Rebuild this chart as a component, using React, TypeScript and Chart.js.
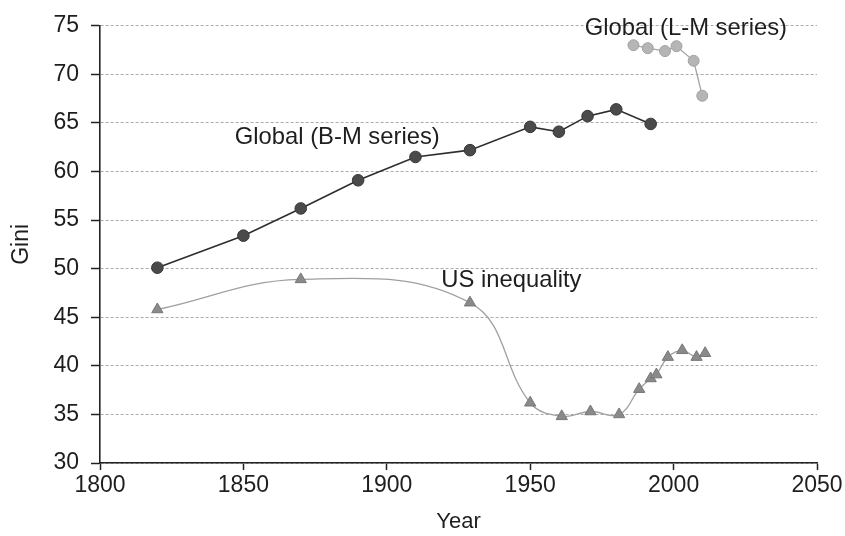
import { useEffect, useRef } from "react";
import { Chart, registerables } from "chart.js";

Chart.register(...registerables);

// ---- data ----
const bmYears = [1820, 1850, 1870, 1890, 1910, 1929, 1950, 1960, 1970, 1980, 1992];
const bmGini = [50.1, 53.4, 56.2, 59.1, 61.5, 62.2, 64.6, 64.1, 65.7, 66.4, 64.9];

const lmYears = [1986, 1991, 1997, 2001, 2007, 2010];
const lmGini = [73.0, 72.7, 72.4, 72.9, 71.4, 67.8];

const usYears = [1820, 1870, 1929, 1950, 1961, 1971, 1981, 1988, 1992, 1994, 1998, 2003, 2008, 2011];
const usGini = [45.8, 48.9, 46.5, 36.2, 34.8, 35.3, 35.0, 37.6, 38.7, 39.1, 40.9, 41.6, 40.9, 41.3];

const xTicks = [1800, 1850, 1900, 1950, 2000, 2050];
const yTicks = [30, 35, 40, 45, 50, 55, 60, 65, 70, 75];

const seriesLabels = ["Global (B-M series)", "Global (L-M series)", "US inequality"];
const labelYears = [1847, 1969, 1919];
const labelGini = [62.8, 74.1, 48.1];

const FONT = '"Liberation Sans", Arial, Helvetica, sans-serif';
const INK = "#1e1e1e";

export default function App() {
  const ref = useRef<HTMLCanvasElement>(null);

  useEffect(() => {
    const canvas = ref.current;
    if (!canvas) return;

    const labelPlugin = {
      id: "seriesLabels",
      afterDatasetsDraw(chart: any) {
        const { ctx, scales } = chart;
        const x = scales.x;
        const y = scales.y;
        ctx.save();
        ctx.font = `23.8px ${FONT}`;
        ctx.fillStyle = INK;
        ctx.textAlign = "left";
        ctx.textBaseline = "alphabetic";
        seriesLabels.forEach((t, i) => {
          ctx.fillText(t, x.getPixelForValue(labelYears[i]), y.getPixelForValue(labelGini[i]));
        });
        ctx.restore();
      },
    };

    const chart = new Chart(canvas, {
      type: "line",
      data: {
        datasets: [
          {
            label: "US inequality",
            data: usYears.map((yr, i) => ({ x: yr, y: usGini[i] })),
            borderColor: "#a0a0a0",
            borderWidth: 1.3,
            tension: 0.4,
            pointStyle: "triangle",
            pointRadius: 6.5,
            pointBackgroundColor: "#8a8a8a",
            pointBorderColor: "#777777",
            pointBorderWidth: 1,
          },
          {
            label: "Global (B-M series)",
            data: bmYears.map((yr, i) => ({ x: yr, y: bmGini[i] })),
            borderColor: "#2e2e2e",
            borderWidth: 1.6,
            tension: 0,
            pointStyle: "circle",
            pointRadius: 5.8,
            pointBackgroundColor: "#4a4a4a",
            pointBorderColor: "#363636",
            pointBorderWidth: 1,
          },
          {
            label: "Global (L-M series)",
            data: lmYears.map((yr, i) => ({ x: yr, y: lmGini[i] })),
            borderColor: "#a5a5a5",
            borderWidth: 1.3,
            tension: 0,
            pointStyle: "circle",
            pointRadius: 5.5,
            pointBackgroundColor: "#b5b5b5",
            pointBorderColor: "#a2a2a2",
            pointBorderWidth: 1,
          },
        ],
      },
      options: {
        responsive: false,
        animation: false,
        layout: { padding: { left: 0, top: 22, right: 28, bottom: 0 } },
        plugins: {
          legend: { display: false },
          tooltip: { enabled: false },
        },
        scales: {
          x: {
            type: "linear",
            min: 1800,
            max: 2050,
            afterBuildTicks: (s: any) => {
              s.ticks = xTicks.map((v) => ({ value: v }));
            },
            afterFit: (s: any) => {
              s.height = 73;
            },
            ticks: {
              color: INK,
              font: { family: FONT, size: 23 },
              padding: 2,
              maxRotation: 0,
              autoSkip: false,
              callback: (v: any) => String(v),
            },
            grid: {
              drawOnChartArea: false,
              tickLength: 7,
              tickColor: "#222",
              tickWidth: 1.5,
            },
            border: { color: "#222", width: 1.6 },
            title: {
              display: true,
              text: "Year",
              color: INK,
              font: { family: FONT, size: 22 },
              padding: { top: 0, bottom: 1 },
            },
          },
          y: {
            type: "linear",
            min: 30,
            max: 75,
            afterBuildTicks: (s: any) => {
              s.ticks = yTicks.map((v) => ({ value: v }));
            },
            afterFit: (s: any) => {
              s.width = 100;
            },
            ticks: {
              color: INK,
              font: { family: FONT, size: 23 },
              padding: 12,
              autoSkip: false,
              callback: (v: any) => String(v),
            },
            grid: {
              color: "#ababab",
              lineWidth: 1,
              tickLength: 9,
              tickColor: "#222",
              tickWidth: 1.5,
            },
            border: { color: "#222", width: 1.6, dash: [3, 2] },
            title: {
              display: true,
              text: "Gini",
              color: INK,
              font: { family: FONT, size: 23 },
              padding: { top: 8, bottom: 0 },
            },
          },
        },
      },
      plugins: [labelPlugin],
    } as any);

    return () => chart.destroy();
  }, []);

  return (
    <div style={{ position: "fixed", left: 0, top: 0, width: 845, height: 536, background: "#fff" }}>
      <canvas ref={ref} width={845} height={536} style={{ display: "block" }} />
    </div>
  );
}
